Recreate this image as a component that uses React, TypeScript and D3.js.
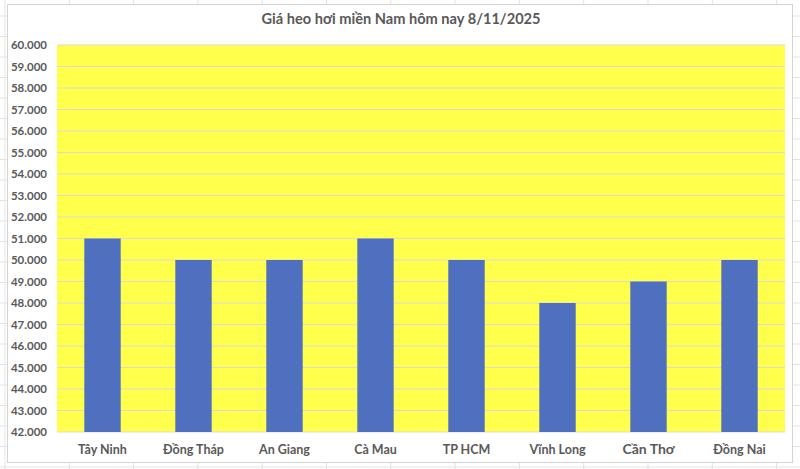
import * as d3 from 'd3';

const W = 800;
const H = 469;

const TITLE = 'Giá heo hơi miền Nam hôm nay 8/11/2025';
const categories = ['Tây Ninh', 'Đồng Tháp', 'An Giang', 'Cà Mau', 'TP HCM', 'Vĩnh Long', 'Cần Thơ', 'Đồng Nai'];
const prices = [51000, 50000, 50000, 51000, 50000, 48000, 49000, 50000];
const yTicks = d3.range(42000, 60001, 1000);

const PLOT = { left: 57, right: 785, top: 45, bottom: 432 };
const TEXT = '#595959';
const FONT = 'Lato, "Open Sans", sans-serif';

// Vietnamese thousands separator
const fmt = (v: number) => d3.format(',')(v).replace(/,/g, '.');

export default function App() {
  const x = d3
    .scaleBand<string>()
    .domain(categories)
    .range([PLOT.left, PLOT.right])
    .paddingInner(0.6)
    .paddingOuter(0.3);
  const y = d3.scaleLinear().domain([42000, 60000]).range([PLOT.bottom, PLOT.top]);

  // spreadsheet cell lines behind the chart object
  const sheetCols = d3.range(5, W, 64.3);
  const sheetRows = d3.range(16, H, 20.5);

  return (
    <div style={{ position: 'fixed', left: 0, top: 0 }}>
      <svg width={W} height={H} style={{ display: 'block' }}>
        <rect width={W} height={H} fill="#ffffff" />
        {sheetCols.map((c) => (
          <line key={'c' + c} x1={c} x2={c} y1={0} y2={H} stroke="#e3e3e3" />
        ))}
        {sheetRows.map((r) => (
          <line key={'r' + r} x1={0} x2={W} y1={r} y2={r} stroke="#e3e3e3" />
        ))}

        {/* chart object */}
        <rect x={7.5} y={4.5} width={785} height={458} fill="#ffffff" stroke="#d4d4d4" />

        <text
          x={401}
          y={24}
          textAnchor="middle"
          fill={TEXT}
          fontFamily={FONT}
          fontWeight={700}
          fontSize={14.6}
        >
          {TITLE}
        </text>

        {/* plot area */}
        <rect
          x={PLOT.left}
          y={PLOT.top}
          width={PLOT.right - PLOT.left}
          height={PLOT.bottom - PLOT.top}
          fill="#ffff4c"
        />
        {yTicks.map((t) => (
          <g key={t}>
            <line
              x1={PLOT.left}
              x2={PLOT.right}
              y1={y(t)}
              y2={y(t)}
              stroke="#d9d9d9"
              strokeWidth={1}
            />
            <text
              x={PLOT.left - 10}
              y={y(t)}
              dy="0.35em"
              textAnchor="end"
              fill={TEXT}
              fontFamily={FONT}
              fontWeight={700}
              fontSize={11.5}
            >
              {fmt(t)}
            </text>
          </g>
        ))}

        {categories.map((c, i) => (
          <rect
            key={c}
            x={x(c)}
            y={y(prices[i])}
            width={x.bandwidth()}
            height={y(42000) - y(prices[i])}
            fill="#4e70be"
          />
        ))}

        {categories.map((c) => (
          <text
            key={'l' + c}
            x={(x(c) ?? 0) + x.bandwidth() / 2}
            y={PLOT.bottom + 22}
            textAnchor="middle"
            fill={TEXT}
            fontFamily={FONT}
            fontWeight={700}
            fontSize={c === 'Cần Thơ' ? 14 : 12.5}
          >
            {c}
          </text>
        ))}
      </svg>
    </div>
  );
}
